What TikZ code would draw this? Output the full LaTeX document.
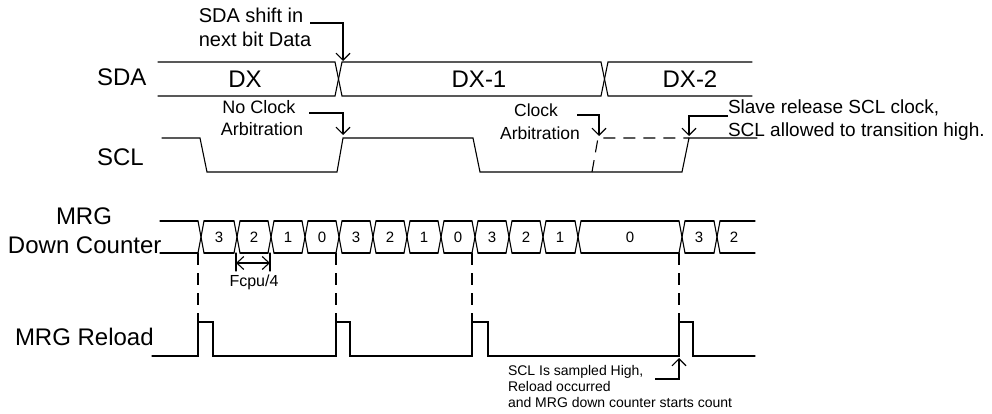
\documentclass[tikz,border=0pt]{standalone}
\usepackage{fontspec}
\setmainfont{Liberation Sans}
\usetikzlibrary{arrows.meta}
\newcommand\fBig{\fontsize{24}{28}\selectfont}
\newcommand\fSda{\fontsize{20}{24}\selectfont}
\newcommand\fArb{\fontsize{18}{22}\selectfont}
\newcommand\fArbB{\fontsize{17.5}{21}\selectfont}
\newcommand\fSlave{\fontsize{19}{23}\selectfont}
\newcommand\fSmall{\fontsize{14}{16}\selectfont}
\newcommand\fFcpu{\fontsize{16}{18}\selectfont}
\newcommand\fDigit{\fontsize{15}{17}\selectfont}
\begin{document}
\begin{tikzpicture}[x=1pt,y=-1pt,
  sig/.style={line width=1.1pt, line cap=round, line join=miter},
  dsig/.style={line width=1.1pt, dash pattern=on 12pt off 8pt},
  barb/.style={-{Straight Barb[length=7pt,width=14pt,line width=1.1pt]}, line width=1.1pt},
  lbl/.style={inner sep=0pt, outer sep=0pt}]
\useasboundingbox (0,0) rectangle (992,414);
\fill[white] (0,0) rectangle (992,414);

% ---------- signal names ----------
\node[lbl, anchor=base west, font=\fBig] (nsda) at (97,86) {SDA};
\node[lbl, anchor=base west, font=\fBig] (nscl) at (97,165) {SCL};
\node[lbl, anchor=base, font=\fBig] (nmrg) at (84,224) {MRG};
\node[lbl, anchor=base west, font=\fBig] (ndc) at (8,253) {Down Counter};
\node[lbl, anchor=base west, font=\fBig] (nrel) at (15,345) {MRG Reload};

% ---------- SDA bus ----------
\draw[sig] (158,62) -- (335,62) -- (342,96) -- (601,96) -- (608,62) -- (752,62);
\draw[sig] (158,96) -- (335,96) -- (342,62) -- (601,62) -- (608,96) -- (752,96);
\node[lbl, anchor=base, font=\fBig] (dx) at (245,88) {DX};
\node[lbl, anchor=base, font=\fBig] (dx1) at (479,88) {DX-1};
\node[lbl, anchor=base, font=\fBig] (dx2) at (690,88) {DX-2};

% ---------- SCL ----------
\draw[sig] (162,138) -- (200,138) -- (207,172) -- (337,172) -- (343,138) -- (473,138) -- (480,172) -- (682,172) -- (689,138) -- (757,138);
\draw[dsig] (592,172) -- (598,138) -- (689,138);

% ---------- MRG down counter ----------
\foreach \a/\b in {160/198,204/234,240/268,274/302,308/336,342/370,376/404,410/438,444/472,478/506,512/540,546/575,581/679,685/714,720/755}{
  \draw[sig] (\a,221) -- (\b,221);
  \draw[sig] (\a,253) -- (\b,253);
}
\foreach \c in {201,237,271,305,339,373,407,441,475,509,543,578,682,717}{
  \draw[sig] (\c-3,221) -- (\c+3,253);
  \draw[sig] (\c-3,253) -- (\c+3,221);
}
\foreach \x/\t [count=\i] in {219/3,254/2,288/1,322/0,356/3,390/2,424/1,458/0,492/3,526/2,560/1,630/0,699/3,734/2}{
  \node[lbl, anchor=base, font=\fDigit] (d\i) at (\x,242) {\t};
}

% Fcpu/4 marker
\coordinate (fa) at (236,263);
\coordinate (fb) at (270,263);
\draw[sig] (236,253) -- (236,271);
\draw[sig] (270,253) -- (270,271);
\draw[{Straight Barb[length=7pt,width=13pt,line width=1.1pt]}-{Straight Barb[length=7pt,width=13pt,line width=1.1pt]}, line width=1.1pt] (fa) -- (fb);
\node[lbl, anchor=base, font=\fFcpu] (fcpu) at (254,286) {Fcpu/4};

% ---------- dashed reload markers ----------
\foreach \x in {198,336,472,679}{
  \draw[dsig] (\x,253) -- (\x,322);
}

% ---------- MRG reload ----------
\draw[sig] (152,356) -- (198,356) -- (198,322) -- (213,322) -- (213,356) -- (336,356) -- (336,322) -- (350,322) -- (350,356) -- (472,356) -- (472,322) -- (488,322) -- (488,356) -- (679,356) -- (679,322) -- (693,322) -- (693,356) -- (755,356);

% ---------- annotations ----------
\node[lbl, anchor=base, font=\fSda] (a1) at (251,23) {SDA shift in};
\node[lbl, anchor=base, font=\fSda] (a2) at (255,47) {next bit Data};
\coordinate (a1s) at (310,23);
\coordinate (a1k) at (343,23);
\coordinate (a1e) at (343,61);
\draw[barb] (a1s) -- (a1k) -- (a1e);

\node[lbl, anchor=base, font=\fArb] (b1) at (259,114) {No Clock};
\node[lbl, anchor=base, font=\fArb] (b2) at (262,136) {Arbitration};
\coordinate (b1s) at (309,113);
\coordinate (b1k) at (343,113);
\coordinate (b1e) at (343,135);
\draw[barb] (b1s) -- (b1k) -- (b1e);

\node[lbl, anchor=base, font=\fArbB] (c1) at (536,117) {Clock};
\node[lbl, anchor=base, font=\fArbB] (c2) at (540,140) {Arbitration};
\coordinate (c1s) at (577,115);
\coordinate (c1k) at (599,115);
\coordinate (c1e) at (599,136);
\draw[barb] (c1s) -- (c1k) -- (c1e);

\node[lbl, anchor=base west, font=\fSlave] (s1) at (728,114) {Slave release SCL clock,};
\node[lbl, anchor=base west, font=\fSlave] (s2) at (728,137) {SCL allowed to transition high.};
\coordinate (s1s) at (728,116);
\coordinate (s1k) at (689,116);
\coordinate (s1e) at (689,136);
\draw[barb] (s1s) -- (s1k) -- (s1e);

\node[lbl, anchor=base west, font=\fSmall] (r1) at (508,375) {SCL Is sampled High,};
\node[lbl, anchor=base west, font=\fSmall] (r2) at (508,391) {Reload occurred};
\node[lbl, anchor=base west, font=\fSmall] (r3) at (508,407) {and MRG down counter starts count};
\coordinate (r1s) at (655,379);
\coordinate (r1k) at (679,379);
\coordinate (r1e) at (679,358);
\draw[barb] (r1s) -- (r1k) -- (r1e);
\end{tikzpicture}
\end{document}
